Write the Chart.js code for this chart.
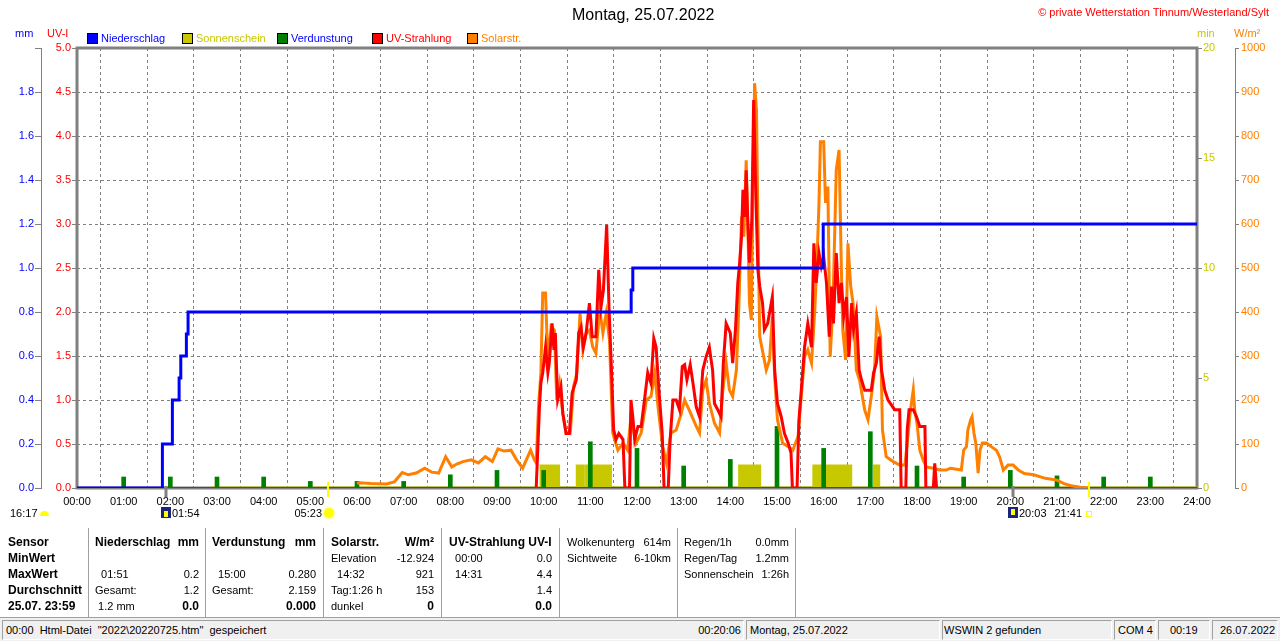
<!DOCTYPE html>
<html>
<head>
<meta charset="utf-8">
<title>Montag, 25.07.2022</title>
<script src="https://cdn.jsdelivr.net/npm/chart.js@4.4.1/dist/chart.umd.min.js"></script>
<style>
body{margin:0;background:#fff;font-family:"Liberation Sans",Arial,sans-serif;font-size:11px;color:#000;}
#wrap{position:relative;width:1280px;height:641px;overflow:hidden;}
#cv{position:absolute;left:0;top:0;}
.t{position:absolute;white-space:pre;line-height:14px;}
.b{font-weight:bold;font-size:12px;}
.sq{position:absolute;width:9px;height:9px;border:1px solid #000;}
.sep{position:absolute;top:528px;height:89px;width:1px;background:#a0a0a0;border-right:1px solid #fff;}
.pan{position:absolute;top:620px;height:18px;border:1px solid;border-color:#a0a0a0 #fff #fff #a0a0a0;}
</style>
</head>
<body>
<div id="wrap">
<canvas id="cv" width="1280" height="525"></canvas>
<div id="over"></div>
</div>
<script>
// Niederschlag, cumulative mm: [hour, mm]
var rainPoints = [[0,0],[1.83,0.2],[2.044,0.4],[2.188,0.5],[2.224,0.6],[2.344,0.7],[2.38,0.8],
  [11.875,0.9],[11.91,1.0],[15.99,1.2],[24,1.2]];

// Sonnenschein, minutes per minute (1 = sunny) as [from, to] hours
var sunStart = 2.87;
var sunIntervals = [[9.945,10.10],[10.12,10.32],[10.72,10.85],[10.92,11.05],[11.11,11.43],
  [14.20,14.63],[15.79,16.58],[17.09,17.18]];

// Verdunstung per hour, mm
var evapHours  = [1,2,3,4,5,6,7,8,9,10,11,12,13,14,15,16,17,18,19,20,21,22,23];
var evapValues = [0.05,0.05,0.05,0.05,0.03,0.03,0.03,0.06,0.08,0.08,0.21,0.18,0.10,0.13,
  0.28,0.18,0.256,0.10,0.05,0.08,0.055,0.05,0.05];

// UV-Strahlung, UV-I: [hour, value]
var uvPoints = [[9.84,0],[9.91,0.92],[9.94,1.19],[9.98,1.31],[10.04,1.6],[10.09,1.31],[10.12,1.42],
  [10.18,1.87],[10.22,1.57],[10.25,1.76],[10.3,1.0],[10.37,1.15],[10.41,0.85],[10.48,0.62],[10.55,0.62],
  [10.61,1.08],[10.7,1.23],[10.75,1.76],[10.8,1.83],[10.85,1.6],[10.91,1.76],[10.98,2.1],[11.04,1.72],
  [11.12,1.72],[11.18,2.48],[11.23,2.06],[11.28,2.25],[11.32,2.67],[11.35,2.99],[11.4,2.06],[11.45,1.38],
  [11.5,0.66],[11.55,0.55],[11.61,0.62],[11.7,0.55],[11.74,0],[11.84,0],[11.87,1.0],[11.91,0.81],
  [11.95,0.55],[12.02,0.7],[12.09,0.7],[12.16,1.0],[12.23,1.31],[12.3,1.19],[12.36,1.7],[12.41,1.6],
  [12.47,1.11],[12.54,0.62],[12.58,0],[12.67,0],[12.71,0.55],[12.77,1.0],[12.84,1.0],[12.91,0.89],
  [12.97,1.38],[13.02,1.4],[13.07,1.23],[13.14,1.4],[13.2,1.19],[13.27,0.92],[13.34,0.81],[13.41,1.34],
  [13.48,1.49],[13.55,1.6],[13.62,1.34],[13.66,0.96],[13.73,0.89],[13.8,0.81],[13.85,1.42],[13.91,1.87],
  [14.0,1.76],[14.05,1.42],[14.11,1.8],[14.16,2.33],[14.2,2.56],[14.24,2.86],[14.27,3.39],[14.31,3.08],
  [14.34,3.61],[14.38,2.93],[14.41,2.56],[14.46,3.05],[14.5,4.41],[14.54,3.47],[14.59,2.48],[14.63,2.29],
  [14.69,2.1],[14.73,1.8],[14.8,1.87],[14.85,2.02],[14.9,2.17],[14.95,1.34],[15.01,0.96],[15.09,0.81],
  [15.16,0.62],[15.24,0.51],[15.3,0.4],[15.33,0],[15.43,0],[15.47,0.77],[15.52,1.11],[15.59,1.6],
  [15.66,1.87],[15.74,1.6],[15.79,2.78],[15.84,2.33],[15.9,2.67],[15.95,2.52],[16.0,2.63],[16.06,2.33],
  [16.12,1.72],[16.17,2.29],[16.21,1.87],[16.27,2.67],[16.33,2.1],[16.38,2.33],[16.43,1.95],[16.49,2.17],
  [16.54,1.49],[16.6,2.1],[16.64,1.8],[16.7,1.99],[16.76,1.34],[16.81,1.23],[16.88,1.11],[16.95,1.11],
  [17.02,1.11],[17.07,1.31],[17.13,1.42],[17.19,1.72],[17.24,1.34],[17.31,1.11],[17.38,1.0],[17.52,0.89],
  [17.63,0.89],[17.66,0],[17.76,0],[17.79,0.66],[17.83,0.89],[17.92,0.89],[17.99,0.81],[18.06,0.7],
  [18.17,0.7],[18.19,0],[18.35,0],[18.38,0.28],[18.42,0]];

// Solarstrahlung, W/m2: [hour, value]
var solarPoints = [[6.0,10],[6.05,12],[6.3,10],[6.63,9],[6.8,14],[6.97,35],[7.1,30],[7.27,34],[7.45,45],
  [7.6,36],[7.75,34],[7.9,71],[8.03,48],[8.15,55],[8.27,60],[8.45,64],[8.6,57],[8.75,71],[8.9,60],
  [9.02,89],[9.15,84],[9.3,86],[9.42,64],[9.55,45],[9.72,86],[9.8,64],[9.84,57],[9.89,185],[9.94,261],
  [9.98,443],[10.04,443],[10.09,284],[10.16,367],[10.23,359],[10.28,200],[10.34,238],[10.41,170],
  [10.48,125],[10.57,125],[10.64,230],[10.71,261],[10.78,397],[10.84,314],[10.91,352],[10.98,359],
  [11.05,321],[11.12,306],[11.2,405],[11.27,352],[11.34,397],[11.41,336],[11.48,125],[11.59,86],
  [11.7,102],[11.8,86],[11.87,162],[11.98,102],[12.09,125],[12.2,200],[12.3,208],[12.38,261],[12.45,185],
  [12.55,94],[12.63,57],[12.73,125],[12.84,132],[12.95,170],[13.02,200],[13.12,177],[13.27,140],
  [13.34,125],[13.41,223],[13.48,245],[13.55,193],[13.66,147],[13.77,125],[13.84,223],[13.91,284],
  [13.98,223],[14.05,208],[14.13,268],[14.18,405],[14.24,617],[14.29,571],[14.34,745],[14.38,571],
  [14.41,420],[14.45,382],[14.48,648],[14.52,920],[14.56,859],[14.59,609],[14.63,344],[14.7,306],
  [14.77,268],[14.84,291],[14.9,389],[14.95,253],[15.01,155],[15.12,102],[15.24,94],[15.34,86],
  [15.45,117],[15.52,208],[15.59,298],[15.66,314],[15.74,284],[15.81,405],[15.86,526],[15.9,648],
  [15.93,787],[16.0,787],[16.04,648],[16.09,685],[16.14,298],[16.2,420],[16.27,723],[16.33,768],
  [16.38,495],[16.41,359],[16.47,291],[16.52,556],[16.58,458],[16.63,420],[16.7,268],[16.77,245],
  [16.88,177],[16.95,155],[17.02,208],[17.09,268],[17.14,389],[17.22,344],[17.26,132],[17.34,71],
  [17.49,60],[17.63,52],[17.74,52],[17.79,102],[17.86,177],[17.92,223],[17.95,177],[18.0,147],
  [18.06,86],[18.13,64],[18.2,48],[18.35,45],[18.49,41],[18.63,41],[18.72,45],[18.95,41],[19.0,86],
  [19.06,94],[19.09,132],[19.15,155],[19.18,162],[19.22,125],[19.26,102],[19.31,34],[19.35,86],
  [19.4,102],[19.49,102],[19.59,94],[19.7,86],[19.77,71],[19.85,41],[19.95,52],[20.06,52],[20.17,41],
  [20.3,33],[20.5,30],[20.75,22],[21.0,18],[21.15,10],[21.3,5],[21.5,2],[21.68,0]];

// sun / moon events (hours) marked on the time axis
var sunEvents  = [5.383, 21.683];
var moonEvents = [1.9, 20.05];

var BLUE = '#0000ff', RED = '#ff0000', ORANGE = '#ff8000', GREEN = '#008000', OLIVE = '#c8c800', GRID = '#808080';

function toXY(arr) { return arr.map(function(p) { return {x: p[0], y: p[1]}; }); }

var sunData = [{x: sunStart, y: 0}];
sunIntervals.forEach(function(iv) {
	sunData.push({x: iv[0], y: 0}, {x: iv[0], y: 1}, {x: iv[1], y: 1}, {x: iv[1], y: 0});
});
sunData.push({x: 24, y: 0});

var evapData = evapHours.map(function(h, i) { return {x: h, y: evapValues[i]}; });

Chart.defaults.font.family = '"Liberation Sans", Arial, sans-serif';
Chart.defaults.font.size = 11;
Chart.defaults.color = '#000';

var framePlugin = {
	id: 'frame',
	beforeDatasetsDraw: function(chart) {
		var ctx = chart.ctx, a = chart.chartArea;
		ctx.save();
		ctx.strokeStyle = GRID;
		ctx.lineWidth = 3;
		ctx.strokeRect(a.left, a.top, a.right - a.left, a.bottom - a.top);
		ctx.restore();
	},
	afterDatasetsDraw: function(chart) {
		var ctx = chart.ctx, x = chart.scales.x, b = chart.chartArea.bottom;
		ctx.save();
		ctx.lineWidth = 2;
		ctx.strokeStyle = '#ffff00';
		sunEvents.forEach(function(t) {
			var px = Math.round(x.getPixelForValue(t));
			ctx.beginPath(); ctx.moveTo(px, b - 6); ctx.lineTo(px, b + 9); ctx.stroke();
		});
		ctx.strokeStyle = GRID;
		ctx.lineWidth = 3;
		moonEvents.forEach(function(t) {
			var px = Math.round(x.getPixelForValue(t));
			ctx.beginPath(); ctx.moveTo(px, b - 2); ctx.lineTo(px, b + 9); ctx.stroke();
		});
		ctx.restore();
	}
};

var ctx = document.getElementById('cv').getContext('2d');
var chart = new Chart(ctx, {
	type: 'line',
	data: {
		datasets: [
			{label: 'Niederschlag', data: toXY(rainPoints), yAxisID: 'yMM', borderColor: BLUE, borderWidth: 3, stepped: 'before', pointRadius: 0},
			{label: 'UV-Strahlung', data: toXY(uvPoints), yAxisID: 'yUV', borderColor: RED, borderWidth: 3, pointRadius: 0},
			{label: 'Solarstr.', data: toXY(solarPoints), yAxisID: 'yW', borderColor: ORANGE, borderWidth: 3, pointRadius: 0},
			{type: 'bar', label: 'Verdunstung', data: evapData, yAxisID: 'yMM', backgroundColor: GREEN, barThickness: 4},
			{label: 'Verdunstung 0', data: toXY([[1.9,0],[24,0]]), yAxisID: 'yMM', borderColor: GREEN, borderWidth: 2, pointRadius: 0},
			{label: 'Sonnenschein', data: sunData, yAxisID: 'yMin', borderColor: OLIVE, backgroundColor: OLIVE, fill: 'origin', borderWidth: 3, pointRadius: 0}
		]
	},
	options: {
		responsive: false,
		animation: false,
		layout: {padding: {top: 48, left: 0, right: 0, bottom: 0}},
		plugins: {legend: {display: false}, tooltip: {enabled: false}},
		scales: {
			x: {
				type: 'linear', min: 0, max: 24, offset: false,
				ticks: {stepSize: 1, autoSkip: false, maxRotation: 0, padding: 7,
					callback: function(v) { return (v < 10 ? '0' : '') + v + ':00'; }},
				grid: {color: GRID, drawTicks: false},
				border: {display: false, dash: [3, 3]},
				afterFit: function(s) { s.height = 37; }
			},
			yMM: {
				position: 'left', weight: 1, min: 0, max: 2.0,
				ticks: {stepSize: 0.2, color: BLUE, padding: 1,
					callback: function(v) { return v > 1.99 ? '' : v.toFixed(1); }},
				grid: {drawOnChartArea: false, color: GRID, tickLength: 6},
				border: {display: true, color: GRID, width: 1},
				afterFit: function(s) { s.width = 41; }
			},
			yUV: {
				position: 'left', weight: 0, min: 0, max: 5,
				ticks: {stepSize: 0.5, color: RED, padding: 1,
					callback: function(v) { return v.toFixed(1); }},
				grid: {color: GRID, tickLength: 5, tickBorderDash: [1, 0]},
				border: {display: false, dash: [3, 3]},
				afterFit: function(s) { s.width = 36; }
			},
			yMin: {
				position: 'right', weight: 0, min: 0, max: 20,
				ticks: {stepSize: 5, color: OLIVE, padding: 1,
					callback: function(v) { return String(v); }},
				grid: {drawOnChartArea: false, color: GRID, tickLength: 5},
				border: {display: false},
				afterFit: function(s) { s.width = 38; }
			},
			yW: {
				position: 'right', weight: 1, min: 0, max: 1000,
				ticks: {stepSize: 100, color: ORANGE, padding: 2,
					callback: function(v) { return String(v); }},
				grid: {drawOnChartArea: false, color: GRID, tickLength: 4},
				border: {display: true, color: GRID, width: 1},
				afterFit: function(s) { s.width = 45; }
			}
		}
	},
	plugins: [framePlugin]
});

// ---- texts around the chart ----
var over = document.getElementById('over');
function txt(x, y, s, opt) {
	opt = opt || {};
	var d = document.createElement('div');
	d.className = 't' + (opt.bold ? ' b' : '');
	d.textContent = s;
	d.style.top = (y - 7) + 'px';
	if (opt.right) { d.style.right = (1280 - x) + 'px'; } else { d.style.left = x + 'px'; }
	if (opt.color) d.style.color = opt.color;
	if (opt.size) d.style.fontSize = opt.size + 'px';
	over.appendChild(d);
	return d;
}
function box(x, y, w, h, css) {
	var d = document.createElement('div');
	d.style.position = 'absolute';
	d.style.left = x + 'px'; d.style.top = y + 'px';
	d.style.width = w + 'px'; d.style.height = h + 'px';
	for (var k in css) d.style[k] = css[k];
	over.appendChild(d);
	return d;
}

txt(572, 15, 'Montag, 25.07.2022', {size: 16});
txt(1269, 12, '\u00a9 private Wetterstation Tinnum/Westerland/Sylt', {right: true, color: RED});

txt(15, 33, 'mm', {color: BLUE});
txt(47, 33, 'UV-I', {color: RED});
txt(1197, 33, 'min', {color: OLIVE});
txt(1234, 33, 'W/m\u00b2', {color: ORANGE});

var legendItems = [[87, 'Niederschlag', BLUE, BLUE], [182, 'Sonnenschein', OLIVE, OLIVE],
	[277, 'Verdunstung', GREEN, BLUE], [372, 'UV-Strahlung', RED, RED], [467, 'Solarstr.', ORANGE, ORANGE]];
legendItems.forEach(function(it) {
	var s = document.createElement('div');
	s.className = 'sq';
	s.style.left = it[0] + 'px'; s.style.top = '33px'; s.style.background = it[2];
	over.appendChild(s);
	txt(it[0] + 14, 38, it[1], {color: it[3]});
});

// sun / moon event labels
txt(10, 513, '16:17');
box(40, 511, 9, 5, {background: '#ffff00', borderRadius: '5px 5px 0 0'});
box(161, 507, 10, 11, {background: '#1a237e'});
box(164, 511, 4, 6, {background: '#ffff00'});
txt(172, 513, '01:54');
txt(322, 513, '05:23', {right: true});
box(324, 508, 10, 10, {background: '#ffff00', borderRadius: '5px', boxShadow: '0 0 2px 1px #ffff80'});
box(1008, 507, 10, 11, {background: '#1a237e'});
box(1011, 509, 4, 6, {background: '#ffff00'});
txt(1019, 513, '20:03');
txt(1082, 513, '21:41', {right: true});
box(1086, 511, 4, 4, {border: '1px solid #ffff00'});

// ---- table below the chart ----
var rowY = [542, 558, 574, 590, 606];
var sepX = [88, 205, 323, 441, 559, 677, 795];
sepX.forEach(function(x) { var d = document.createElement('div'); d.className = 'sep'; d.style.left = x + 'px'; over.appendChild(d); });

var sensorCol = ['Sensor', 'MinWert', 'MaxWert', 'Durchschnitt', '25.07. 23:59'];
sensorCol.forEach(function(s, i) { txt(8, rowY[i], s, {bold: true}); });

// [left x, right x, rows of [leftText, rightText, boldRight]]
var tableCols = [
	[95, 199, [['Niederschlag', 'mm', 1], ['', ''], ['  01:51', '0.2'], ['Gesamt:', '1.2'], [' 1.2 mm', '0.0', 1]]],
	[212, 316, [['Verdunstung', 'mm', 1], ['', ''], ['  15:00', '0.280'], ['Gesamt:', '2.159'], ['', '0.000', 1]]],
	[331, 434, [['Solarstr.', 'W/m\u00b2', 1], ['Elevation', '-12.924'], ['  14:32', '921'], ['Tag:1:26 h', '153'], ['dunkel', '0', 1]]],
	[449, 552, [['UV-Strahlung UV-I', '', 1], ['  00:00', '0.0'], ['  14:31', '4.4'], ['', '1.4'], ['', '0.0', 1]]],
	[567, 671, [['Wolkenunterg', '614m'], ['Sichtweite', '6-10km']]],
	[684, 789, [['Regen/1h', '0.0mm'], ['Regen/Tag', '1.2mm'], ['Sonnenschein', '1:26h']]]
];
tableCols.forEach(function(c) {
	c[2].forEach(function(r, i) {
		var headBold = (i === 0 && r[2]);
		if (r[0]) txt(c[0], rowY[i], r[0], {bold: headBold});
		if (r[1]) txt(c[1], rowY[i], r[1], {right: true, bold: !!r[2]});
	});
});

// ---- status bar ----
box(0, 617, 1280, 24, {background: '#f0f0f0', borderTop: '1px solid #a0a0a0'});
var panels = [[2, 742], [746, 938], [942, 1110], [1114, 1154], [1158, 1208], [1212, 1276]];
panels.forEach(function(p) {
	var d = document.createElement('div'); d.className = 'pan';
	d.style.left = p[0] + 'px'; d.style.width = (p[1] - p[0]) + 'px';
	over.appendChild(d);
});
txt(6, 630, '00:00  Html-Datei  "2022\\20220725.htm"  gespeichert');
txt(741, 630, '00:20:06', {right: true});
txt(750, 630, 'Montag, 25.07.2022');
txt(944, 630, 'WSWIN 2 gefunden');
txt(1118, 630, 'COM 4');
txt(1170, 630, '00:19');
txt(1220, 630, '26.07.2022');
</script>
</body>
</html>
